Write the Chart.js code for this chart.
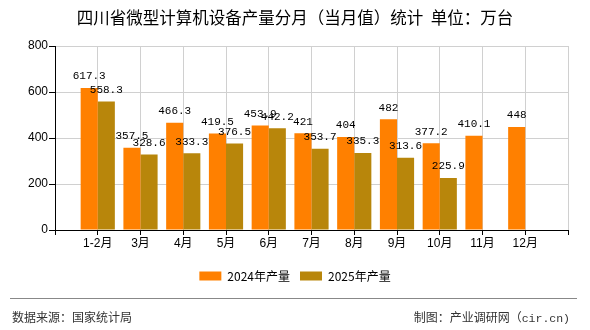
<!DOCTYPE html>
<html>
<head>
<meta charset="utf-8">
<script src="https://cdn.jsdelivr.net/npm/chart.js@4"></script>
<style>
  html, body { margin: 0; padding: 0; background: #fff; }
  #wrap { position: relative; width: 590px; height: 330px; overflow: hidden; }
  #c { position: absolute; left: 0; top: 0; }
  .foot { position: absolute; font-family: "Noto Sans CJK SC", sans-serif; font-size: 12px; color: #333; white-space: nowrap; line-height: 14px; }
  .mono { font-family: "Liberation Mono", "DejaVu Sans Mono", monospace; font-size: 11.5px; }
  #line { position: absolute; left: 10px; top: 297.5px; width: 567px; height: 0; border-top: 1.5px solid #888; }
</style>
</head>
<body>
<div id="wrap">
  <canvas id="c" width="590" height="330"></canvas>
  <div id="line"></div>
  <div class="foot" id="src" style="left:12px; top:310px;">数据来源：国家统计局</div>
  <div class="foot" id="maker" style="right:20px; top:310px;">制图：产业调研网（<span class="mono">cir.cn)</span></div>
</div>
<script>
const titleText = '四川省微型计算机设备产量分月（当月值）统计  单位：万台';
const months = ['1-2月', '3月', '4月', '5月', '6月', '7月', '8月', '9月', '10月', '11月', '12月'];
const values2024 = [617.3, 357.5, 466.3, 419.5, 453.9, 421, 404, 482, 377.2, 410.1, 448];
const values2025 = [558.3, 328.6, 333.3, 376.5, 442.2, 353.7, 335.3, 313.6, 225.9, null, null];
const seriesNames = ['2024年产量', '2025年产量'];
const yTicks = [0, 200, 400, 600, 800];

const labels = [''].concat(months, ['']);
const pad = arr => [null].concat(arr, [null]);

const valueLabels = {
  id: 'valueLabels',
  afterDatasetsDraw(chart) {
    const ctx = chart.ctx;
    ctx.save();
    ctx.font = '11px "Liberation Mono", "DejaVu Sans Mono", monospace';
    ctx.fillStyle = '#000';
    ctx.textAlign = 'center';
    ctx.textBaseline = 'bottom';
    chart.data.datasets.forEach((ds, di) => {
      const meta = chart.getDatasetMeta(di);
      meta.data.forEach((el, i) => {
        const v = ds.data[i];
        if (v === null || v === undefined) return;
        ctx.fillText(String(v), el.x, el.y - 6);
      });
    });
    ctx.restore();
  }
};

new Chart(document.getElementById('c'), {
  type: 'bar',
  data: {
    labels: labels,
    datasets: [
      { label: seriesNames[0], data: pad(values2024), backgroundColor: '#FF8000', borderWidth: 0 },
      { label: seriesNames[1], data: pad(values2025), backgroundColor: '#B8860B', borderWidth: 0 }
    ]
  },
  options: {
    responsive: false,
    animation: false,
    devicePixelRatio: 1,
    layout: { padding: { left: 0, right: 0, top: 0, bottom: 38 } },
    datasets: { bar: { categoryPercentage: 0.8, barPercentage: 1.0 } },
    plugins: {
      title: {
        display: true,
        text: titleText,
        color: '#000',
        font: { family: '"Noto Sans CJK SC", sans-serif', size: 16.5, weight: 'normal', lineHeight: 1.2 },
        padding: { top: 8, bottom: 18.2 }
      },
      legend: {
        display: true,
        position: 'bottom',
        labels: {
          boxWidth: 22,
          boxHeight: 9,
          padding: 10,
          color: '#000',
          font: { family: '"Noto Sans CJK SC", sans-serif', size: 12 }
        }
      },
      tooltip: { enabled: false }
    },
    scales: {
      x: {
        offset: false,
        grid: { display: true, color: '#d0d0d0', tickColor: '#000', tickLength: 5, offset: false },
        border: { display: true, color: '#000', width: 1 },
        ticks: {
          color: '#000',
          padding: 1,
          maxRotation: 0,
          autoSkip: false,
          font: { family: '"Liberation Sans", "Noto Sans CJK SC", sans-serif', size: 12 }
        },
        afterFit(scale) { scale.height = 30; }
      },
      y: {
        min: 0,
        max: 800,
        afterBuildTicks(scale) { scale.ticks = yTicks.map(v => ({ value: v })); },
        grid: { color: '#d0d0d0', tickColor: '#000', tickLength: 6 },
        border: { display: true, color: '#000', width: 1 },
        ticks: {
          color: '#000',
          padding: 1,
          font: { family: '"Liberation Sans", sans-serif', size: 12 }
        },
        afterFit(scale) { scale.width = 55; }
      },
      yRight: {
        position: 'right',
        min: 0,
        max: 800,
        grid: { display: false, drawTicks: false },
        border: { display: false },
        ticks: { display: false },
        afterFit(scale) { scale.width = 22; }
      }
    }
  },
  plugins: [valueLabels]
});
</script>
</body>
</html>
